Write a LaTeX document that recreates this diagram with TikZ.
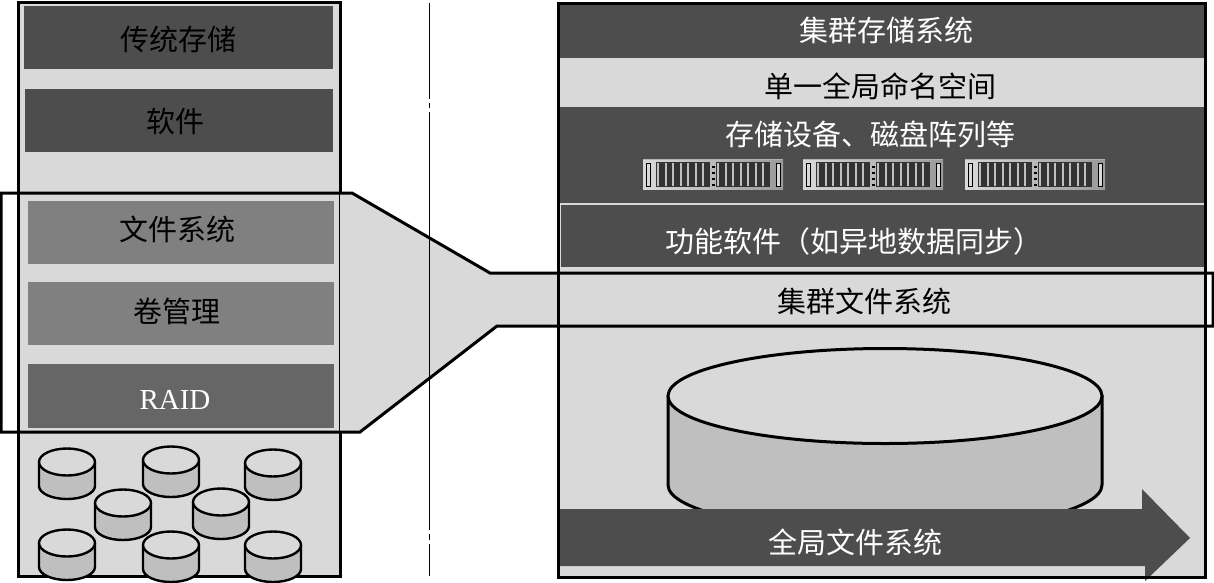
\documentclass[tikz,border=0pt]{standalone}
\usepackage{fontspec}
\setmainfont{Liberation Serif}
\newfontfamily\cjk{Noto Sans CJK SC}
\definecolor{dk}{HTML}{4D4D4D}
\definecolor{md}{HTML}{808080}
\definecolor{mr}{HTML}{666666}
\definecolor{lt}{HTML}{D9D9D9}
\definecolor{sd}{HTML}{BFBFBF}
\tikzset{
  x=1pt,y=-1pt,
  panel/.style={draw=black,line width=3pt,fill=lt},
  band/.style={minimum height=0pt,anchor=north west,inner sep=0pt,outer sep=0pt,text=white,font=\cjk\fontsize{29}{29}\selectfont},
  lbl/.style={font=\cjk\fontsize{29}{29}\selectfont,inner sep=0pt},
  diskline/.style={draw=black,line width=2.4pt,line join=round},
}
\newcommand{\smalldisk}[2]{%
  \fill[sd] (#1-28,#2) -- (#1-28,#2+24) arc[start angle=180,end angle=360,x radius=28,y radius=-13] -- (#1+28,#2) -- cycle;
  \draw[diskline] (#1-28,#2) -- (#1-28,#2+24) arc[start angle=180,end angle=360,x radius=28,y radius=-13] -- (#1+28,#2);
  \draw[diskline,fill=lt] (#1,#2) ellipse[x radius=28,y radius=13.5];
}
\newcommand{\rack}[1]{%
  \fill[gray!60] (#1,159) rectangle ++(140,31);
  \shade[left color=gray!30,right color=gray!80] (#1,160) rectangle ++(140,29);
  \draw[black,fill=lt,line width=.6pt] (#1+3,163) rectangle ++(4,23);
  \draw[black,fill=lt,line width=.6pt] (#1+133,163) rectangle ++(4,23);
  \fill[black!80] (#1+13,162) rectangle ++(54,25);
  \fill[black!80] (#1+73,162) rectangle ++(54,25);
  \foreach \i in {0,...,6}{
    \fill[sd] (#1+14+\i*7.5,163) rectangle ++(2,23);
    \fill[sd] (#1+74+\i*7.5,163) rectangle ++(2,23);
  }
  \foreach \j in {166,172,178,184}{\fill[black] (#1+69,\j) rectangle ++(3,2);}
}
\begin{document}
\begin{tikzpicture}
\useasboundingbox (0,0) rectangle (1214,582);
\fill[white] (0,0) rectangle (1214,582);

% panels
\draw[panel] (18,2) rectangle (340,576);
\draw[panel] (558,3) rectangle (1205,577);

% highlight callout
\fill[lt] (340,193) -- (352,193) -- (490,273) -- (1205,273) -- (1205,326) -- (497,326) -- (360,432) -- (340,432) -- cycle;

% vertical rule
\draw[black,line width=1pt] (429,3) -- (429,99) (429,103) -- (429,108) (429,112) -- (429,530) (429,534) -- (429,540) (429,544) -- (429,576);

% left bands
\node[band,fill=dk,minimum width=309pt,minimum height=63pt] (a1) at (24,6) {};
\node[band,fill=dk,minimum width=308pt,minimum height=63pt] (a2) at (25,89) {};
\node[band,fill=md,minimum width=306pt,minimum height=63pt] (a3) at (28,201) {};
\node[band,fill=md,minimum width=306pt,minimum height=63pt] (a4) at (28,282) {};
\node[band,fill=mr,minimum width=306pt,minimum height=64pt] (a5) at (28,364) {};
\node[lbl,text=black] (t1) at (178,39) {传统存储};
\node[lbl,text=black] (t2) at (175,121) {软件};
\node[lbl,text=black] (t3) at (177,229) {文件系统};
\node[lbl,text=black] (t4) at (177,311) {卷管理};
\node[inner sep=0pt,text=white,font=\fontsize{29}{29}\selectfont] (t5) at (175,400) {RAID};

% small disks
\smalldisk{67}{462}
\smalldisk{171}{460}
\smalldisk{273}{463}
\smalldisk{123}{503}
\smalldisk{221}{502}
\smalldisk{67}{543}
\smalldisk{171}{545}
\smalldisk{273}{545}

% right bands
\node[band,fill=dk,minimum width=645pt,minimum height=54pt] (b1) at (559,4) {};
\node[band,fill=dk,minimum width=645pt,minimum height=96pt] (b2) at (560,107) {};
\node[band,fill=dk,minimum width=643pt,minimum height=62pt] (b3) at (561,205) {};
\node[lbl,text=white] (u1) at (886,30) {集群存储系统};
\node[lbl,text=black] (u2) at (880,86) {单一全局命名空间};
\node[lbl,text=white] (u3) at (870,134) {存储设备、磁盘阵列等};
\node[lbl,text=white] (u4) at (854,241) {功能软件（如异地数据同步）};
\node[lbl,text=black] (u5) at (864,301) {集群文件系统};
\rack{643}
\rack{803}
\rack{965}

% big disk
\fill[sd] (668,395) -- (668,485) arc[start angle=180,end angle=360,x radius=217,y radius=-47] -- (1102,395) -- cycle;
\draw[diskline,line width=3pt] (668,395) -- (668,485) arc[start angle=180,end angle=360,x radius=217,y radius=-47] -- (1102,395);
\draw[diskline,line width=3pt,fill=lt] (885,396) ellipse[x radius=217,y radius=47.5];

% arrow
\fill[dk] (559,509) -- (1142,509) -- (1142,489) -- (1190,538) -- (1145,581) -- (1145,566) -- (559,566) -- cycle;
\node[lbl,text=white] (u6) at (855,542) {全局文件系统};

% panel outlines on top and callout outline
\draw[black,line width=3pt] (558,3) rectangle (1205,577);
\draw[black,line width=3pt,line join=miter] (1,193) -- (352,193) -- (490,273) -- (1213,273) -- (1213,326) -- (497,326) -- (360,432) -- (1,432) -- cycle;
\end{tikzpicture}
\end{document}
